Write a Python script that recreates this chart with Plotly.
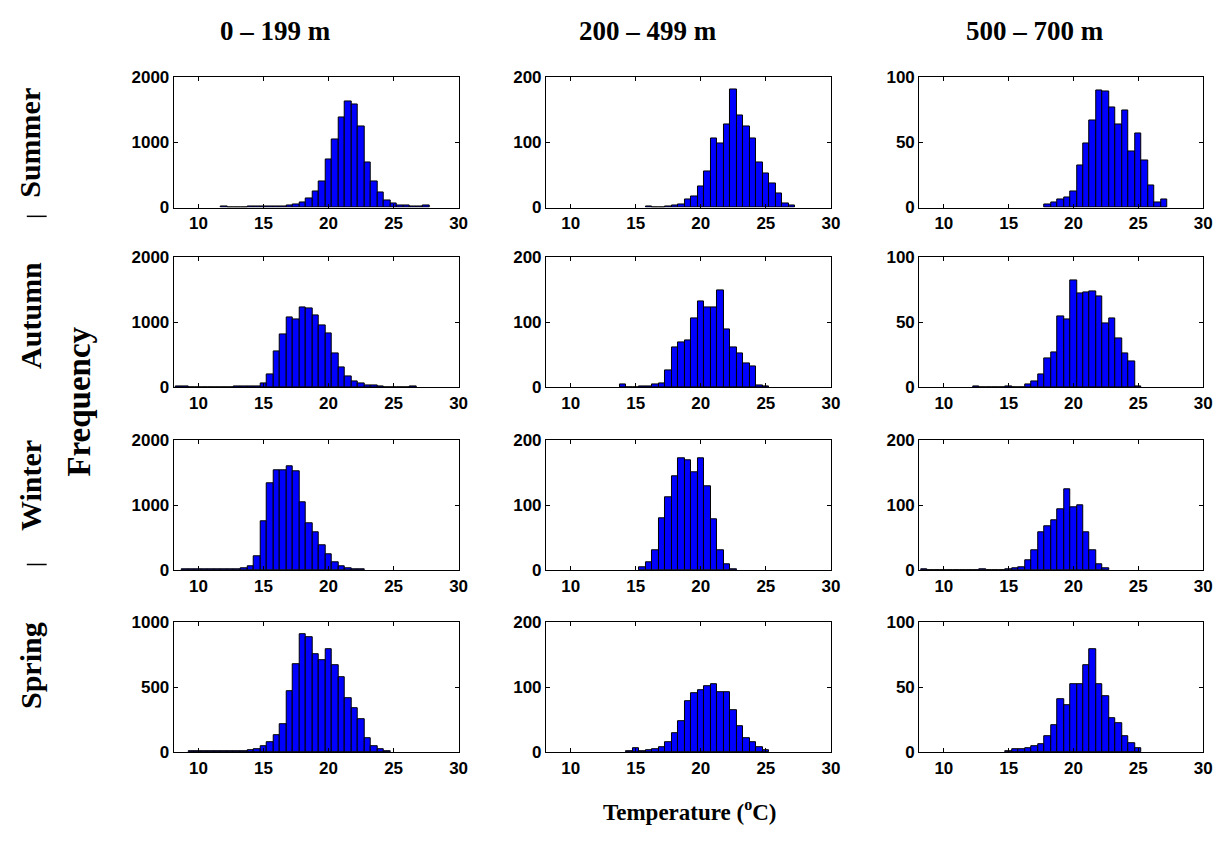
import plotly.graph_objects as go

W, H = 1232, 863
BIN_STEP = 0.5

# ---- data: (start bin centre, counts) per panel ----
summer_0_199_start = 12.0
summer_0_199 = [20, 0, 0, 0, 10, 12, 15, 12, 15, 15, 25, 50, 85, 135, 250, 400, 735, 1040, 1385,
                1635, 1585, 1240, 700, 400, 235, 110, 60, 30, 25, 20, 10, 25]
summer_200_499_start = 16.0
summer_200_499 = [2, 0, 0, 1, 3, 5, 12, 17, 32, 55, 106, 99, 128, 181, 141, 124, 106, 69, 52, 37, 22, 6, 3]
summer_500_700_start = 18.0
summer_500_700 = [2, 4, 6, 8, 12, 32, 49, 67, 90, 89, 77, 64, 75, 43, 57, 36, 17, 4, 6]

autumn_0_199_start = 8.5
autumn_0_199 = [20, 15, 0, 0, 0, 0, 8, 8, 8, 10, 10, 10, 15, 70, 200, 550, 820, 1085, 1050, 1235, 1210,
                1110, 960, 835, 520, 310, 175, 100, 60, 35, 25, 10, 0, 0, 0, 0, 12]
autumn_200_499_start = 14.0
autumn_200_499 = [4, 0, 0, 2, 2, 5, 7, 27, 62, 69, 72, 106, 133, 123, 123, 150, 89, 62, 52, 37, 33, 3, 2]
autumn_500_700_start = 12.5
autumn_500_700 = [1, 0, 0, 0, 0, 1, 0, 0, 2, 5, 10, 22, 27, 55, 52, 82, 72, 73, 74, 70, 49, 53, 38, 26, 20, 1]

winter_0_199_start = 9.0
winter_0_199 = [15, 15, 10, 10, 10, 10, 12, 12, 15, 30, 60, 220, 750, 1345, 1545, 1545, 1595, 1520, 1045,
                725, 585, 385, 245, 120, 70, 30, 15, 10]
winter_200_499_start = 15.5
winter_200_499 = [5, 12, 31, 80, 112, 144, 173, 169, 151, 173, 130, 78, 31, 10, 2]
winter_500_700_start = 8.5
winter_500_700 = [2, 0, 0, 0, 0, 0, 0, 0, 0, 2, 0, 0, 0, 1, 3, 5, 15, 31, 58, 68, 77, 94, 125, 97, 100,
                  58, 31, 10, 3]

spring_0_199_start = 9.5
spring_0_199 = [10, 5, 10, 5, 5, 8, 8, 10, 12, 15, 25, 45, 80, 130, 213, 467, 679, 910, 885, 756, 705, 795,
                672, 577, 418, 338, 251, 110, 50, 25, 10]
spring_200_499_start = 14.5
spring_200_499 = [2, 6, 2, 3, 4, 8, 15, 30, 48, 78, 91, 95, 101, 105, 92, 92, 65, 40, 22, 15, 8, 3]
spring_500_700_start = 15.0
spring_500_700 = [1, 2, 2, 3, 5, 6, 12, 21, 41, 36, 52, 52, 67, 79, 52, 43, 26, 22, 12, 7, 3]

depth_labels = ["0 \u2013 199 m", "200 \u2013 499 m", "500 \u2013 700 m"]
season_labels = ["Summer", "Autumn", "Winter", "Spring"]
x_ticks = [10, 15, 20, 25, 30]
y_max = [[2000, 200, 100], [2000, 200, 100], [2000, 200, 200], [1000, 200, 100]]

panels = [
    [(summer_0_199_start, summer_0_199), (summer_200_499_start, summer_200_499), (summer_500_700_start, summer_500_700)],
    [(autumn_0_199_start, autumn_0_199), (autumn_200_499_start, autumn_200_499), (autumn_500_700_start, autumn_500_700)],
    [(winter_0_199_start, winter_0_199), (winter_200_499_start, winter_200_499), (winter_500_700_start, winter_500_700)],
    [(spring_0_199_start, spring_0_199), (spring_200_499_start, spring_200_499), (spring_500_700_start, spring_500_700)],
]

# ---- layout geometry (pixels) ----
col_px = [(175, 462), (550, 837), (926, 1212)]
row_px = [(70, 203), (254, 387), (441, 574), (627, 760)]

TICK_FONT = dict(family="Liberation Sans Narrow, Arial Narrow, Liberation Sans, Arial", size=17, color="black")
TITLE_FONT = "Liberation Serif, Times New Roman, serif"

fig = go.Figure()
layout = dict(width=W, height=H, margin=dict(l=0, r=0, t=0, b=0), paper_bgcolor="white",
              plot_bgcolor="white", showlegend=False, bargap=0)

k = 0
for r in range(4):
    for c in range(3):
        k += 1
        start, counts = panels[r][c]
        xs = [start + i * BIN_STEP for i in range(len(counts))]
        xa = "x" if k == 1 else f"x{k}"
        ya = "y" if k == 1 else f"y{k}"
        fig.add_trace(go.Bar(x=xs, y=counts, width=BIN_STEP, xaxis=xa, yaxis=ya,
                             marker=dict(color="#0000ff", line=dict(color="black", width=1))))
        x0, x1 = col_px[c]
        y0, y1 = row_px[r]
        ym = y_max[r][c]
        layout["xaxis" if k == 1 else f"xaxis{k}"] = dict(
            domain=[x0 / W, x1 / W], anchor=ya, range=[8.1, 30], tickvals=x_ticks,
            ticktext=[f"<b>{t}</b>" for t in x_ticks],
            ticks="inside", ticklen=4, tickcolor="black", showline=True, linecolor="black", linewidth=1,
            mirror="ticks", showgrid=False, zeroline=False, tickfont=TICK_FONT, fixedrange=True)
        layout["yaxis" if k == 1 else f"yaxis{k}"] = dict(
            domain=[1 - y1 / H, 1 - y0 / H], anchor=xa, range=[0, ym],
            tickvals=[0, ym / 2, ym], ticktext=[f"<b>{int(v)}</b>" for v in [0, ym / 2, ym]],
            ticks="inside", ticklen=4, tickcolor="black", showline=True, linecolor="black", linewidth=1,
            mirror="ticks", showgrid=False, zeroline=False, tickfont=TICK_FONT, fixedrange=True)

annotations = []
title_x = [278, 653, 1043]
for c, lab in enumerate(depth_labels):
    txt = lab.replace(" \u2013 ", "\u00a0\u2013\u00a0")
    annotations.append(dict(text=f"<b>{txt}</b>", x=title_x[c] / W, y=1 - 22 / H, xref="paper", yref="paper",
                            showarrow=False, font=dict(family=TITLE_FONT, size=27, color="black"),
                            xanchor="center", yanchor="middle"))
season_y = [137, 313, 487, 671]
for r, lab in enumerate(season_labels):
    annotations.append(dict(text=f"<b>{lab}</b>", x=30 / W, y=1 - season_y[r] / H, xref="paper", yref="paper",
                            showarrow=False, textangle=-90, font=dict(family=TITLE_FONT, size=30, color="black"),
                            xanchor="center", yanchor="middle"))
annotations.append(dict(text="<b>Frequency</b>", x=80 / W, y=1 - 401 / H, xref="paper", yref="paper",
                        showarrow=False, textangle=-90, font=dict(family=TITLE_FONT, size=33, color="black"),
                        xanchor="center", yanchor="middle"))
annotations.append(dict(text="<b>Temperature (<sup>o</sup>C)</b>", x=695 / W, y=1 - 820 / H, xref="paper",
                        yref="paper", showarrow=False, font=dict(family=TITLE_FONT, size=23, color="black"),
                        xanchor="center", yanchor="middle"))
layout["annotations"] = annotations

# short separator dashes between the season labels
sep_y = [212, 568]
layout["shapes"] = [dict(type="line", xref="paper", yref="paper", x0=27 / W, x1=47 / W,
                         y0=1 - yy / H, y1=1 - yy / H, line=dict(color="black", width=1.5)) for yy in sep_y]

fig.update_layout(**layout)
fig.write_html("out.html")
